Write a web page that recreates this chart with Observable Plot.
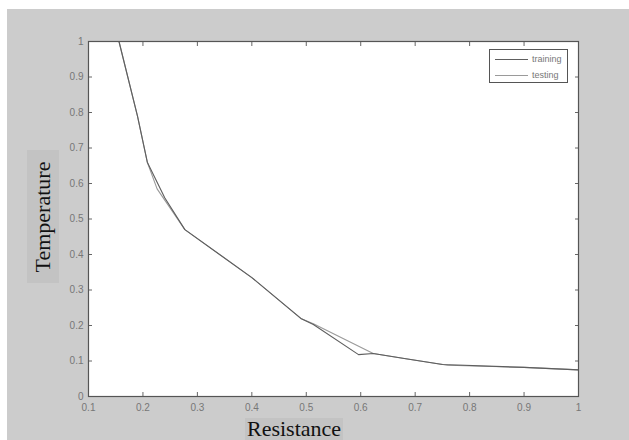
<!DOCTYPE html>
<html><head><meta charset="utf-8">
<script src="https://cdn.jsdelivr.net/npm/d3@7"></script>
<script src="https://cdn.jsdelivr.net/npm/@observablehq/plot@0.6"></script>
<style>
body{margin:0;background:#fff;width:629px;height:440px;overflow:hidden;position:relative;font-family:"Liberation Sans",Arial,sans-serif}
#bg{position:absolute;left:7px;top:9px;width:622px;height:431px;background:#cccccc}
#chart{position:absolute;left:7px;top:9px}
.ylab{position:absolute;left:27px;top:150px;width:32px;height:133px;background:#c3c3c3;display:flex;align-items:center;justify-content:center}
.ylab span{transform:rotate(-90deg);white-space:nowrap;font:22px "Liberation Serif",serif;color:#111}
.xlab{position:absolute;left:245px;top:418px;width:98px;height:22px;background:#c3c3c3;display:flex;align-items:center;justify-content:center;font:22px "Liberation Serif",serif;color:#111}
.legend{position:absolute;left:489px;top:49px;width:77px;height:32px;background:#fff;border:1px solid #555;font:9px "Liberation Sans",Arial,sans-serif;color:#777}
.legend .row{display:flex;align-items:center;height:14px;margin-top:2px}
.legend .sw{width:33px;height:0;margin-left:5px;margin-right:4px}
</style></head>
<body>
<div id="bg"></div>
<div id="chart"></div>
<div class="ylab"><span>Temperature</span></div>
<div class="xlab">Resistance</div>
<div class="legend" id="legend"></div>
<script>
const seriesNames = ["training", "testing"];
const seriesColors = ["#5e5e5e", "#9a9a9a"];
const trainX = [0.156, 0.19, 0.208, 0.24, 0.277, 0.4, 0.49, 0.513, 0.596, 0.623, 0.68, 0.75, 0.9, 1.0];
const trainY = [1.0, 0.79, 0.66, 0.56, 0.47, 0.335, 0.22, 0.203, 0.118, 0.121, 0.107, 0.09, 0.082, 0.075];
const testX = [0.156, 0.19, 0.208, 0.226, 0.277, 0.4, 0.49, 0.513, 0.623, 0.68, 0.76, 0.9, 1.0];
const testY = [1.0, 0.79, 0.66, 0.585, 0.47, 0.335, 0.22, 0.205, 0.121, 0.107, 0.088, 0.082, 0.075];
const xTicks = [0.1, 0.2, 0.3, 0.4, 0.5, 0.6, 0.7, 0.8, 0.9, 1.0];
const xLabels = ["0.1", "0.2", "0.3", "0.4", "0.5", "0.6", "0.7", "0.8", "0.9", "1"];
const yTicks = [0, 0.1, 0.2, 0.3, 0.4, 0.5, 0.6, 0.7, 0.8, 0.9, 1.0];
const yLabels = ["0", "0.1", "0.2", "0.3", "0.4", "0.5", "0.6", "0.7", "0.8", "0.9", "1"];

const train = trainX.map((x, i) => ({x, y: trainY[i]}));
const test = testX.map((x, i) => ({x, y: testY[i]}));

const chart = Plot.plot({
  width: 622, height: 431,
  marginLeft: 81, marginRight: 51, marginTop: 32, marginBottom: 44,
  style: {background: "transparent", fontFamily: "'Liberation Sans', Arial, sans-serif", fontSize: "10px"},
  x: {domain: [0.1, 1]},
  y: {domain: [0, 1]},
  marks: [
    Plot.frame({fill: "white", stroke: "none"}),
    Plot.line(test, {x: "x", y: "y", stroke: seriesColors[1], strokeWidth: 1.1}),
    Plot.line(train, {x: "x", y: "y", stroke: seriesColors[0], strokeWidth: 1.1}),
    Plot.axisX(xTicks, {anchor: "bottom", tickSize: -4, text: null, stroke: "#666", label: null}),
    Plot.axisX(xTicks, {anchor: "top", tickSize: -4, text: null, stroke: "#666", label: null}),
    Plot.axisY(yTicks, {anchor: "left", tickSize: -4, text: null, stroke: "#666", label: null}),
    Plot.axisY(yTicks, {anchor: "right", tickSize: -4, text: null, stroke: "#666", label: null}),
    Plot.axisX(xTicks, {anchor: "bottom", tickSize: 0, tickPadding: 7, fill: "#777", tickFormat: d => xLabels[xTicks.indexOf(d)], label: null}),
    Plot.axisY(yTicks, {anchor: "left", tickSize: 0, tickPadding: 5, fill: "#777", tickFormat: d => yLabels[yTicks.indexOf(d)], label: null}),
    Plot.frame({stroke: "#555", strokeWidth: 1.2})
  ]
});
document.getElementById("chart").append(chart);

const lg = document.getElementById("legend");
seriesNames.forEach((n, i) => {
  const row = document.createElement("div");
  row.className = "row";
  const sw = document.createElement("span");
  sw.className = "sw";
  sw.style.borderTop = "1px solid " + seriesColors[i];
  const t = document.createElement("span");
  t.textContent = n;
  row.append(sw, t);
  lg.append(row);
});
</script>
</body></html>
